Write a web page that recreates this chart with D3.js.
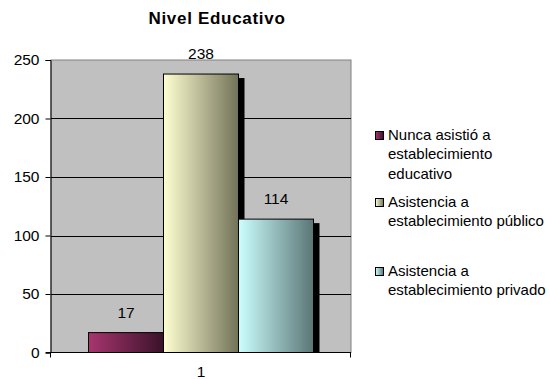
<html>

<head>
    <style>
        body { margin: 0; background: #fff; }
        text { font-family: "Liberation Sans", Arial, sans-serif; fill: #000; }
    </style>
</head>

<body>
    <div id="chart"></div>
    <script src="https://d3js.org/d3.v7.min.js"></script>
    <script>
        var categories = ["1"];
        var series = [
            "Nunca asistió a establecimiento educativo",
            "Asistencia a establecimiento público",
            "Asistencia a establecimiento privado"
        ];
        var values = [17, 238, 114];
        var yTicks = [0, 50, 100, 150, 200, 250];
        var legendLines = [
            ["Nunca asistió a", "establecimiento", "educativo"],
            ["Asistencia a", "establecimiento público"],
            ["Asistencia a", "establecimiento privado"]
        ];
        // light (left) -> dark (right) fills
        var gradColors = [
            ["#a8356f", "#3a1229"],
            ["#ffffd2", "#727259"],
            ["#ccffff", "#5b7575"]
        ];

        var width = 550, height = 379;
        var plot = { left: 51, right: 351, top: 60, bottom: 352.5 };

        var svg = d3.select("#chart").append("svg")
            .attr("width", width)
            .attr("height", height);

        var defs = svg.append("defs");
        gradColors.forEach(function (c, i) {
            var g = defs.append("linearGradient")
                .attr("id", "grad" + i)
                .attr("x1", "0").attr("x2", "1").attr("y1", "0").attr("y2", "0");
            g.append("stop").attr("offset", "0%").attr("stop-color", c[0]);
            g.append("stop").attr("offset", "100%").attr("stop-color", c[1]);
        });

        var x0 = d3.scaleBand().domain(categories)
            .range([plot.left, plot.right])
            .paddingInner(0.25).paddingOuter(0.125);
        var x1 = d3.scaleBand().domain(d3.range(series.length))
            .range([0, x0.bandwidth()]);
        var y = d3.scaleLinear().domain([0, 250]).range([plot.bottom, plot.top]);

        // plot background
        svg.append("rect")
            .attr("x", plot.left).attr("y", plot.top)
            .attr("width", plot.right - plot.left).attr("height", plot.bottom - plot.top)
            .attr("fill", "#c0c0c0")
            .attr("stroke", "#808080").attr("stroke-width", 1);

        // gridlines
        svg.append("g").selectAll("line")
            .data(yTicks.filter(function (d) { return d > 0 && d < 250; }))
            .enter().append("line")
            .attr("x1", plot.left).attr("x2", plot.right)
            .attr("y1", function (d) { return Math.round(y(d)) + 0.5; })
            .attr("y2", function (d) { return Math.round(y(d)) + 0.5; })
            .attr("stroke", "#000").attr("stroke-width", 1);

        // bars with shadows
        var bars = svg.append("g");
        values.forEach(function (v, i) {
            var bx = x0(categories[0]) + x1(i);
            bars.append("rect")
                .attr("x", bx + 6).attr("y", y(v) + 4)
                .attr("width", x1.bandwidth()).attr("height", plot.bottom - y(v) - 4)
                .attr("fill", "#000");
            bars.append("rect")
                .attr("x", bx).attr("y", y(v))
                .attr("width", x1.bandwidth()).attr("height", plot.bottom - y(v))
                .attr("fill", "url(#grad" + i + ")")
                .attr("stroke", "#000").attr("stroke-width", 1);
            svg.append("text")
                .attr("x", bx + x1.bandwidth() / 2)
                .attr("y", y(v) - 15)
                .attr("text-anchor", "middle")
                .attr("font-size", "15.5px")
                .text(v);
        });

        // y axis
        var yAxis = svg.append("g")
            .attr("transform", "translate(" + (plot.left - 0.5) + ",0)")
            .call(d3.axisLeft(y).tickValues(yTicks).tickSize(5).tickPadding(6));
        yAxis.select(".domain").attr("stroke", "#000");
        yAxis.selectAll("text").attr("font-size", "15.5px")
            .attr("font-family", "Liberation Sans, Arial, sans-serif");

        // x axis
        var xAxis = svg.append("g")
            .attr("transform", "translate(0," + (plot.bottom) + ")");
        xAxis.append("line")
            .attr("x1", plot.left - 5).attr("x2", plot.right)
            .attr("stroke", "#000");
        [plot.left - 0.5, plot.right - 0.5].forEach(function (tx) {
            xAxis.append("line").attr("x1", tx).attr("x2", tx)
                .attr("y1", 0).attr("y2", 5).attr("stroke", "#000");
        });
        xAxis.append("text")
            .attr("x", x0(categories[0]) + x0.bandwidth() / 2)
            .attr("y", 24)
            .attr("text-anchor", "middle")
            .attr("font-size", "15.5px")
            .text(categories[0]);

        // title
        svg.append("text")
            .attr("x", 217).attr("y", 24)
            .attr("text-anchor", "middle")
            .attr("font-size", "17px")
            .attr("font-weight", "bold")
            .attr("letter-spacing", "0.7px")
            .text("Nivel Educativo");

        // legend
        var legendTop = [134, 201, 270];
        var legend = svg.append("g");
        legendLines.forEach(function (lines, i) {
            legend.append("rect")
                .attr("x", 375.5).attr("y", legendTop[i] - 2.5)
                .attr("width", 8).attr("height", 8)
                .attr("fill", "url(#grad" + i + ")")
                .attr("stroke", "#000");
            lines.forEach(function (t, j) {
                legend.append("text")
                    .attr("x", 388)
                    .attr("y", legendTop[i] + 5.5 + j * 19.5)
                    .attr("font-size", "15px")
                    .text(t);
            });
        });
    </script>
</body>

</html>
